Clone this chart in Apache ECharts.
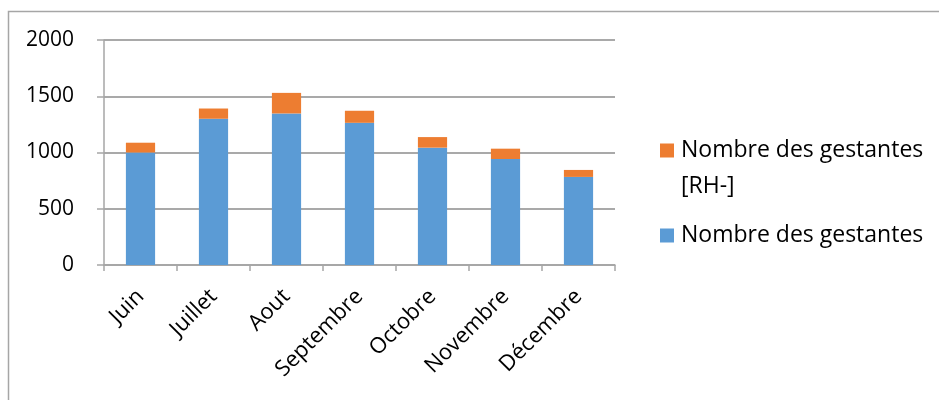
<!DOCTYPE html>
<html>
<head>
<meta charset="utf-8">
<script src="https://cdn.jsdelivr.net/npm/echarts@6/dist/echarts.min.js"></script>
<style>html,body{margin:0;padding:0;background:#fff;}#c{width:939px;height:400px;}</style>
</head>
<body>
<div id="c"></div>
<script>
var categories = ['Juin', 'Juillet', 'Aout', 'Septembre', 'Octobre', 'Novembre', 'Décembre'];
var gestantes = [1000, 1300, 1347, 1264, 1043, 942, 783];
var gestantesRH = [87, 91, 183, 107, 94, 92, 62];
var yTicks = [0, 500, 1000, 1500, 2000];
var nameA = 'Nombre des gestantes';
var nameB = 'Nombre des gestantes [RH-]';
var blue = '#5B9BD5', orange = '#ED7D31';
var font = 'Open Sans';

var chart = echarts.init(document.getElementById('c'));
chart.setOption({
  animation: false,
  textStyle: { fontFamily: font },
  graphic: [{
    type: 'rect', left: 6, top: 9,
    shape: { width: 1000, height: 500 },
    style: { fill: 'none', stroke: '#a6a6a6', lineWidth: 1.5 },
    silent: true
  }],
  grid: { left: 104, right: 324, top: 40, bottom: 135, containLabel: false },
  legend: {
    orient: 'vertical', left: 649, top: 134,
    itemWidth: 1, itemHeight: 1, itemGap: 26,
    itemStyle: { color: 'transparent', borderWidth: 0 },
    selectedMode: false,
    data: [nameB, nameA],
    formatter: function (n) {
      if (n === nameB) return '{sqB|}{t|Nombre des gestantes}\n{sp|}{t|[RH-]}';
      return '{sqA|}{t|Nombre des gestantes}';
    },
    textStyle: {
      rich: {
        sqA: { width: 14, height: 14, backgroundColor: blue },
        sqB: { width: 14, height: 14, backgroundColor: orange },
        sp: { width: 14, height: 14 },
        t: { fontFamily: font, fontSize: 23, color: '#000', lineHeight: 36, padding: [0, 0, 0, 7] }
      }
    }
  },
  xAxis: {
    type: 'category', data: categories,
    axisLine: { lineStyle: { color: '#a6a6a6', width: 1.5 } },
    axisTick: { show: true, length: 6, alignWithLabel: false, lineStyle: { color: '#a6a6a6', width: 1.5 } },
    axisLabel: { rotate: 45, fontSize: 22, color: '#000', margin: 28, interval: 0, fontFamily: font }
  },
  yAxis: {
    type: 'value', min: 0, max: 2000, interval: 500,
    axisLine: { show: true, lineStyle: { color: '#a6a6a6', width: 1.5 } },
    axisTick: { show: true, length: 7, lineStyle: { color: '#a6a6a6', width: 1.5 } },
    splitLine: { lineStyle: { color: '#8c8c8c', width: 1.5 } },
    axisLabel: {
      fontSize: 21, color: '#000', margin: 30, fontFamily: font,
      formatter: function (v) { return yTicks.indexOf(v) >= 0 ? String(v) : ''; }
    }
  },
  series: [
    { name: nameA, type: 'bar', stack: 's', data: gestantes, barWidth: '40%', itemStyle: { color: blue } },
    { name: nameB, type: 'bar', stack: 's', data: gestantesRH, barWidth: '40%', itemStyle: { color: orange } }
  ]
});
</script>
</body>
</html>
